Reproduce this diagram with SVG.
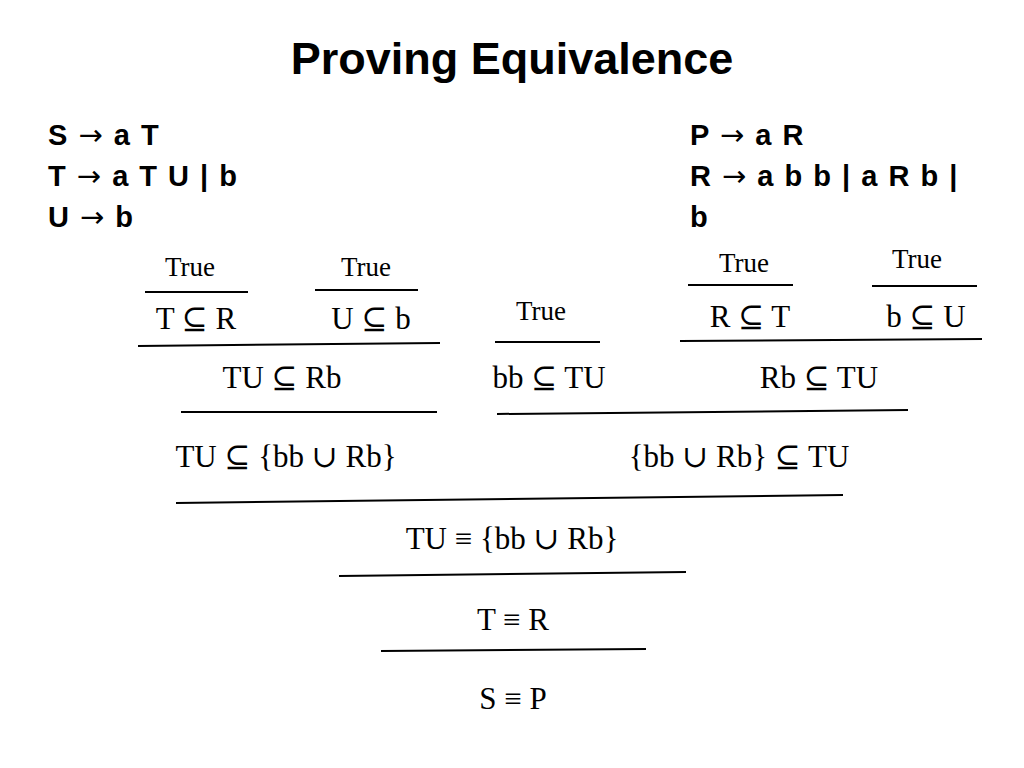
<svg xmlns="http://www.w3.org/2000/svg" width="1024" height="768" viewBox="0 0 1024 768">
<style>
.t{font-family:"Liberation Sans",Arial,sans-serif;font-weight:bold;fill:#000}
.a{font-family:"DejaVu Sans",sans-serif;font-weight:normal}
.s{font-family:"Liberation Serif","DejaVu Serif",serif;font-size:31px;fill:#000}
.w{font-family:"Liberation Serif","DejaVu Serif",serif;font-size:27px;fill:#000}
line{stroke:#000;stroke-width:2}
</style>
<rect width="1024" height="768" fill="#fff"/>
<text class="t" x="512" y="74" font-size="45" text-anchor="middle">Proving Equivalence</text>
<g class="t" font-size="29" word-spacing="3">
<text x="48" y="145">S <tspan class="a">→</tspan> a T</text>
<text x="48" y="186">T <tspan class="a">→</tspan> a T U | b</text>
<text x="48" y="227">U <tspan class="a">→</tspan> b</text>
<text x="690" y="145">P <tspan class="a">→</tspan> a R</text>
<text x="690" y="186">R <tspan class="a">→</tspan> a b b | a R b |</text>
<text x="690" y="227">b</text>
</g>
<g text-anchor="middle">
<text class="w" x="190" y="276">True</text>
<text class="w" x="366" y="276">True</text>
<text class="w" x="541" y="320">True</text>
<text class="w" x="744" y="272">True</text>
<text class="w" x="917" y="268">True</text>
<text class="s" x="196" y="329">T ⊆ R</text>
<text class="s" x="371" y="329">U ⊆ b</text>
<text class="s" x="750" y="327">R ⊆ T</text>
<text class="s" x="926" y="327">b ⊆ U</text>
<text class="s" x="282" y="388">TU ⊆ Rb</text>
<text class="s" x="549" y="388">bb ⊆ TU</text>
<text class="s" x="819" y="388">Rb ⊆ TU</text>
<text class="s" x="286" y="467">TU ⊆ {bb ∪ Rb}</text>
<text class="s" x="739" y="467">{bb ∪ Rb} ⊆ TU</text>
<text class="s" x="512" y="549">TU ≡ {bb ∪ Rb}</text>
<text class="s" x="513" y="630">T ≡ R</text>
<text class="s" x="513" y="709">S ≡ P</text>
</g>
<g>
<line x1="145" y1="292" x2="248" y2="292"/>
<line x1="315" y1="290" x2="418" y2="290"/>
<line x1="495" y1="342" x2="600" y2="342"/>
<line x1="688" y1="285" x2="793" y2="285"/>
<line x1="872" y1="286" x2="977" y2="286"/>
<line x1="138" y1="346" x2="440" y2="343"/>
<line x1="680" y1="341" x2="982" y2="339"/>
<line x1="181" y1="412" x2="437" y2="412"/>
<line x1="497" y1="414" x2="908" y2="410"/>
<line x1="176" y1="503" x2="843" y2="495"/>
<line x1="339" y1="576" x2="686" y2="572"/>
<line x1="381" y1="651" x2="646" y2="649"/>
</g>
</svg>
